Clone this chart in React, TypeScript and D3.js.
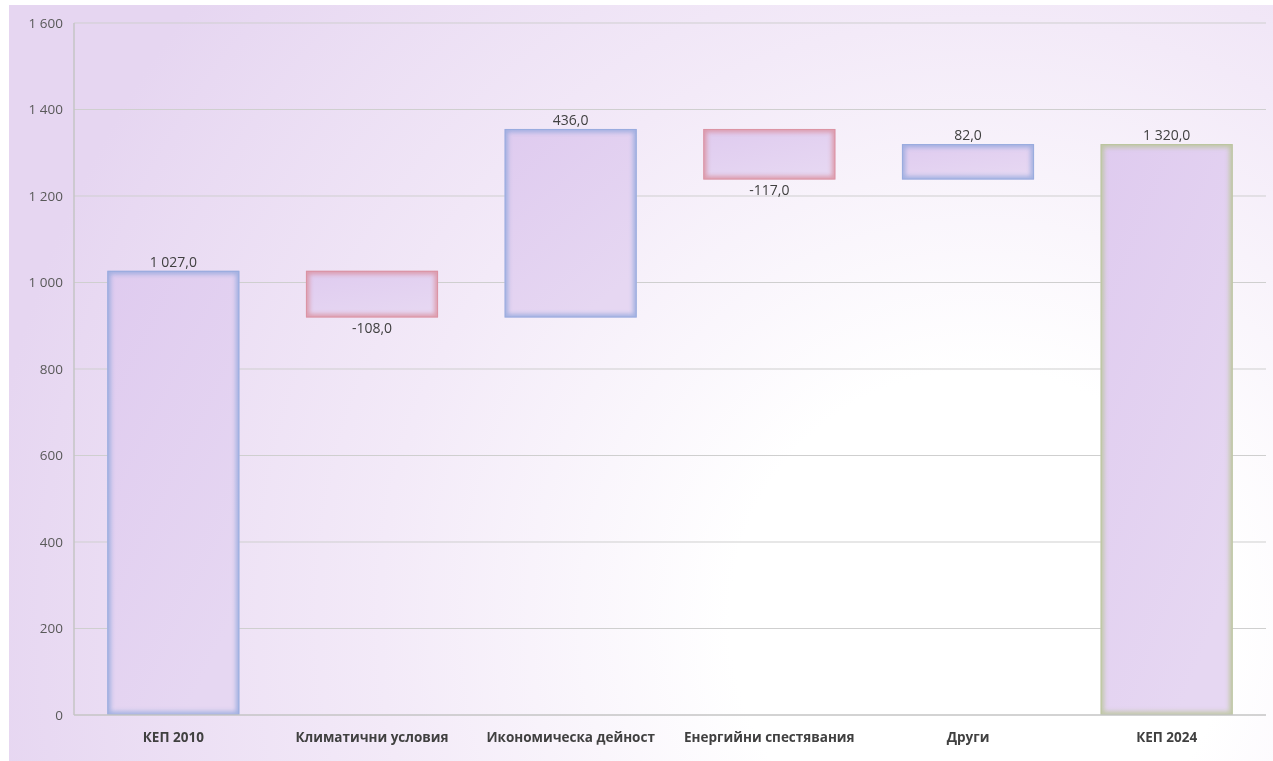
import React from "react";
import * as d3 from "d3";

const categories = ["КЕП 2010", "Климатични условия", "Икономическа дейност", "Енергийни спестявания", "Други", "КЕП 2024"];
const deltas = [1027, -108, 436, -117, 82, 1320];
const kinds = ["total", "delta", "delta", "delta", "delta", "total"];
const yTicks = [0, 200, 400, 600, 800, 1000, 1200, 1400, 1600];

const W = 1273, H = 761;
const m = { left: 74, right: 1266, top: 23, bottom: 715 };

const fmtNum = (v: number, dec: number) => {
  const s = Math.abs(v).toFixed(dec);
  const [i, d] = s.split(".");
  const ii = i.replace(/\B(?=(\d{3})+(?!\d))/g, " ");
  return (v < 0 ? "-" : "") + ii + (d !== undefined ? "," + d : "");
};

export default function App() {
  const x = d3.scaleBand<string>().domain(categories).range([m.left, m.right]).paddingInner(0.335).paddingOuter(0.1675);
  const y = d3.scaleLinear().domain([0, 1600]).range([m.bottom, m.top]);

  let run = 0;
  const bars = categories.map((c, i) => {
    let lo: number, hi: number;
    if (kinds[i] === "total") {
      lo = 0; hi = deltas[i]; run = deltas[i];
    } else {
      const start = run; run = run + deltas[i];
      lo = Math.min(start, run); hi = Math.max(start, run);
    }
    const color = kinds[i] === "total" ? (i === 0 ? "#8ea6dc" : "#b6c592") : deltas[i] < 0 ? "#da8a98" : "#8ea6dc";
    return { c, i, lo, hi, v: deltas[i], color, neg: kinds[i] === "delta" && deltas[i] < 0 };
  });

  const font = "'Open Sans', 'Noto Sans', sans-serif";

  return (
    <div style={{ position: "fixed", left: 0, top: 0, width: W, height: H }}>
      <svg width={W} height={H} style={{ display: "block" }}>
        <defs>
          <radialGradient id="bg" gradientUnits="userSpaceOnUse" cx={980} cy={620} r={1000} fx={980} fy={620}>
            <stop offset="0" stopColor="#ffffff" />
            <stop offset="0.25" stopColor="#ffffff" />
            <stop offset="0.6" stopColor="#f3eaf8" />
            <stop offset="1" stopColor="#e6d6f1" />
          </radialGradient>
          <linearGradient id="barFill" x1="0" y1="0" x2="0.6" y2="1">
            <stop offset="0" stopColor="#dfcbef" />
            <stop offset="1" stopColor="#e6d7f2" />
          </linearGradient>
          <filter id="blur" x="-10%" y="-10%" width="120%" height="120%">
            <feGaussianBlur stdDeviation="2" />
          </filter>
          {bars.map((b) => (
            <clipPath id={`clip${b.i}`} key={b.i}>
              <rect x={x(b.c)!} y={y(b.hi)} width={x.bandwidth()} height={y(b.lo) - y(b.hi)} />
            </clipPath>
          ))}
        </defs>
        <rect x={9} y={5} width={W - 9} height={H - 5} fill="url(#bg)" />
        {yTicks.filter((t) => t > 0).map((t) => (
          <line key={t} x1={m.left} x2={m.right} y1={y(t)} y2={y(t)} stroke="#cfcfcf" strokeWidth={1} />
        ))}
        {yTicks.map((t) => (
          <text key={t} x={63} y={y(t)} dy="0.35em" textAnchor="end" fontFamily={font} fontSize={13.5} fill="#595959">
            {fmtNum(t, 0)}
          </text>
        ))}
        {bars.map((b) => {
          const bx = x(b.c)!, bw = x.bandwidth();
          const by = y(b.hi), bh = y(b.lo) - y(b.hi);
          return (
            <g key={b.i}>
              <rect x={bx} y={by} width={bw} height={bh} fill="url(#barFill)" />
              <g clipPath={`url(#clip${b.i})`}>
                <rect x={bx} y={by} width={bw} height={bh} fill="none" stroke={b.color} strokeWidth={7} opacity={0.75} filter="url(#blur)" />
              </g>
              <rect x={bx + 0.5} y={by + 0.5} width={bw - 1} height={bh - 1} fill="none" stroke={b.color} strokeWidth={1} opacity={0.6} />
              <text x={bx + bw / 2} y={b.neg ? y(b.lo) + 15 : y(b.hi) - 4} textAnchor="middle" fontFamily={font} fontSize={14} fill="#404040">
                {fmtNum(b.v, 1)}
              </text>
            </g>
          );
        })}
        <line x1={m.left} x2={m.left} y1={m.top} y2={m.bottom} stroke="#c4c4c4" strokeWidth={1.5} />
        <line x1={m.left} x2={m.right} y1={m.bottom} y2={m.bottom} stroke="#c4c4c4" strokeWidth={1.5} />
        {categories.map((c) => (
          <text key={c} x={x(c)! + x.bandwidth() / 2} y={737} dy="0.35em" textAnchor="middle" fontFamily={font} fontWeight="bold" fontSize={13.5} fill="#404040">
            {c}
          </text>
        ))}
      </svg>
    </div>
  );
}
